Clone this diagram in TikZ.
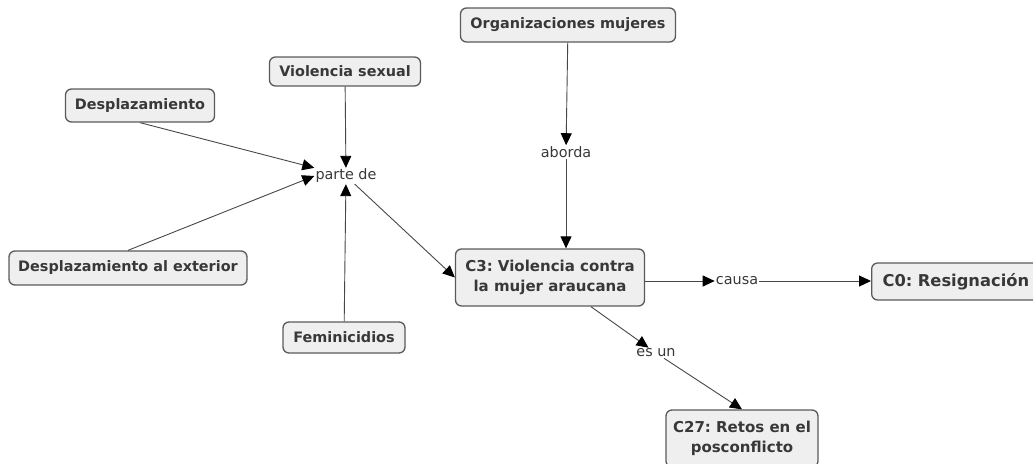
\documentclass[tikz,border=0pt]{standalone}
\usepackage{fontspec}
\setmainfont{DejaVu Sans}
\usetikzlibrary{arrows.meta,positioning}
\definecolor{boxfill}{HTML}{EFEFEF}
\definecolor{boxline}{HTML}{5A5A5A}
\definecolor{txtgray}{HTML}{383838}
\frenchspacing
\begin{document}
\begin{tikzpicture}[x=1pt, y=-1pt,
  concept/.style={draw=boxline, fill=boxfill, rounded corners=6pt, line width=1.3pt,
    font=\bfseries\fontsize{14.4}{20}\selectfont, text=txtgray, align=center,
    inner sep=0pt, minimum height=33pt},
  mainc/.style={font=\bfseries\fontsize{15}{20}\selectfont},
  link/.style={font=\fontsize{14.4}{16}\selectfont, text=txtgray, inner sep=1pt},
  arr/.style={draw=black!72, line width=0.9pt, -{Triangle[length=12pt,width=11pt,color=black]}}]
  \useasboundingbox (0,0) rectangle (1033,463);
  % concepts
  \node[concept, minimum width=215pt, minimum height=34pt] (org) at (568,25) {Organizaciones mujeres};
  \node[concept, minimum width=151pt, minimum height=29pt] (vsex) at (345,71.5) {Violencia sexual};
  \node[concept, minimum width=149pt] (desp) at (140,105.5) {Desplazamiento};
  \node[concept, minimum width=238pt, minimum height=34pt] (despext) at (128,268) {Desplazamiento al exterior};
  \node[concept, minimum width=122pt, minimum height=31pt] (femin) at (344,337.5) {Feminicidios};
  \node[concept, mainc, minimum width=189pt, minimum height=57pt] (c3) at (550,277.5)
    {C3: Violencia contra\\la mujer araucana};
  \node[concept, font=\bfseries\fontsize{16.3}{20}\selectfont, minimum width=200pt, minimum height=37pt,
    anchor=west, text width=190pt, align=left] (c0) at (871,281.5) {\hspace*{6pt}C0: Resignación};
  \node[concept, mainc, minimum width=152pt, minimum height=57pt] (c27) at (742,438.5)
    {C27: Retos en el\\posconflicto};
  % linking phrases
  \node[link] (parte) at (346,176) {parte de};
  \node[link] (aborda) at (566,152) {aborda};
  \node[link] (causa) at (737,281) {causa};
  \node[link] (esun) at (656,353) {es un};
  % connectors
  \draw[arr] (desp.south) -- (parte.north west);
  \draw[arr] (despext.north) -- (parte.west);
  \draw[arr] (vsex) -- (parte);
  \draw[arr] (femin) -- (parte);
  \draw[arr] (parte) -- (c3.west);
  \draw[arr] (org) -- (aborda);
  \draw[arr] (aborda) -- (aborda |- c3.north);
  \draw[arr] (c3.east |- causa) -- (causa);
  \draw[arr] (causa) -- (c0.west |- causa);
  \draw[arr] (c3) -- (esun);
  \draw[arr] (esun) -- (c27.north);
\end{tikzpicture}
\end{document}
